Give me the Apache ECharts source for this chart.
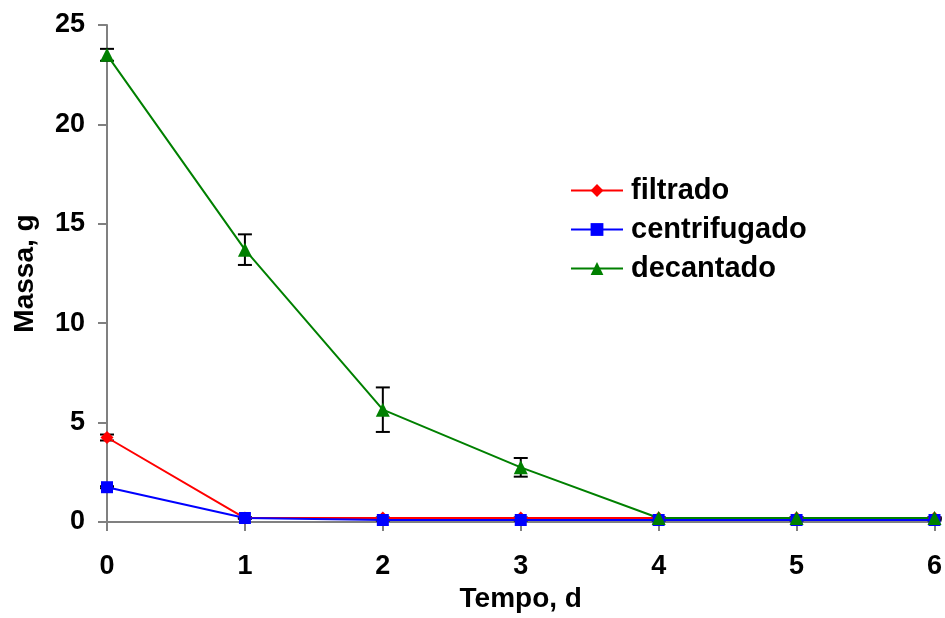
<!DOCTYPE html>
<html>
<head>
<meta charset="utf-8">
<script src="https://cdn.jsdelivr.net/npm/echarts@6/dist/echarts.min.js"></script>
<style>
  html, body { margin: 0; padding: 0; background: #fff; }
  #chart { width: 945px; height: 618px; }
</style>
</head>
<body>
<div id="chart"></div>
<script>
// Time in days
const days = [0, 1, 2, 3, 4, 5, 6];

// Mass (g) per separation method
const filtrado = [4.25, 0.2, 0.2, 0.2, 0.2, 0.2, 0.2];
const centrifugado = [1.75, 0.2, 0.1, 0.1, 0.1, 0.1, 0.1];
const decantado = [23.5, 13.7, 5.65, 2.75, 0.2, 0.2, 0.2];

// Standard deviations (error bars)
const filtradoErr = [0.15, 0.03, 0.03, 0.03, 0.03, 0.03, 0.03];
const centrifugadoErr = [0.05, 0.03, 0.03, 0.03, 0.03, 0.03, 0.03];
const decantadoErr = [0.3, 0.77, 1.12, 0.47, 0.03, 0.03, 0.03];

const seriesNames = ['filtrado', 'centrifugado', 'decantado'];
const colors = ['#ff0000', '#0000ff', '#008000'];

const font = 'Liberation Sans, Arial, sans-serif';

function pairs(vals) {
  return days.map((d, i) => [d, vals[i]]);
}

function errorData(vals, errs) {
  return days.map((d, i) => [d, vals[i] - errs[i], vals[i] + errs[i]]);
}

// Vertical error bars with horizontal caps
function errorSeries(vals, errs) {
  return {
    type: 'custom',
    data: errorData(vals, errs),
    z: 2,
    silent: true,
    renderItem: function (params, api) {
      const x = api.value(0);
      const lo = api.coord([x, api.value(1)]);
      const hi = api.coord([x, api.value(2)]);
      const half = 7;
      const style = { stroke: '#000', lineWidth: 2 };
      return {
        type: 'group',
        children: [
          { type: 'line', shape: { x1: lo[0], y1: lo[1], x2: hi[0], y2: hi[1] }, style: style },
          { type: 'line', shape: { x1: lo[0] - half, y1: lo[1], x2: lo[0] + half, y2: lo[1] }, style: style },
          { type: 'line', shape: { x1: hi[0] - half, y1: hi[1], x2: hi[0] + half, y2: hi[1] }, style: style }
        ]
      };
    }
  };
}

const chart = echarts.init(document.getElementById('chart'));

chart.setOption({
  animation: false,
  backgroundColor: '#fff',
  grid: { left: 107, right: 9, top: 25, bottom: 92, containLabel: false },
  legend: {
    orient: 'vertical',
    left: 565,
    top: 171,
    itemWidth: 52,
    itemHeight: 16,
    itemGap: 10,
    data: seriesNames,
    textStyle: { fontFamily: font, fontWeight: 'bold', fontSize: 29, color: '#000', padding: [0, 0, 0, 3] }
  },
  xAxis: {
    type: 'value',
    min: 0,
    max: 6,
    interval: 1,
    name: 'Tempo, d',
    nameLocation: 'middle',
    nameGap: 63,
    nameTextStyle: { fontFamily: font, fontWeight: 'bold', fontSize: 28, color: '#000' },
    axisLine: { lineStyle: { color: '#808080', width: 2 } },
    axisTick: { show: true, length: 9, lineStyle: { color: '#808080', width: 2 } },
    axisLabel: { fontFamily: font, fontWeight: 'bold', fontSize: 27, color: '#000', margin: 31 },
    splitLine: { show: false }
  },
  yAxis: {
    type: 'value',
    min: 0,
    max: 25,
    interval: 5,
    name: 'Massa, g',
    nameLocation: 'middle',
    nameGap: 68,
    nameTextStyle: { fontFamily: font, fontWeight: 'bold', fontSize: 28, color: '#000' },
    axisLine: { show: true, lineStyle: { color: '#808080', width: 2 } },
    axisTick: { show: true, length: 9, lineStyle: { color: '#808080', width: 2 } },
    axisLabel: { fontFamily: font, fontWeight: 'bold', fontSize: 27, color: '#000', margin: 22 },
    splitLine: { show: false }
  },
  series: [
    errorSeries(filtrado, filtradoErr),
    errorSeries(centrifugado, centrifugadoErr),
    errorSeries(decantado, decantadoErr),
    {
      name: 'filtrado', type: 'line', data: pairs(filtrado), z: 3,
      symbol: 'diamond', symbolSize: 13,
      itemStyle: { color: colors[0] }, lineStyle: { color: colors[0], width: 2 }
    },
    {
      name: 'centrifugado', type: 'line', data: pairs(centrifugado), z: 3,
      symbol: 'rect', symbolSize: 12,
      itemStyle: { color: colors[1] }, lineStyle: { color: colors[1], width: 2 }
    },
    {
      name: 'decantado', type: 'line', data: pairs(decantado), z: 3,
      symbol: 'triangle', symbolSize: 14,
      itemStyle: { color: colors[2] }, lineStyle: { color: colors[2], width: 2 }
    }
  ]
});
</script>
</body>
</html>
